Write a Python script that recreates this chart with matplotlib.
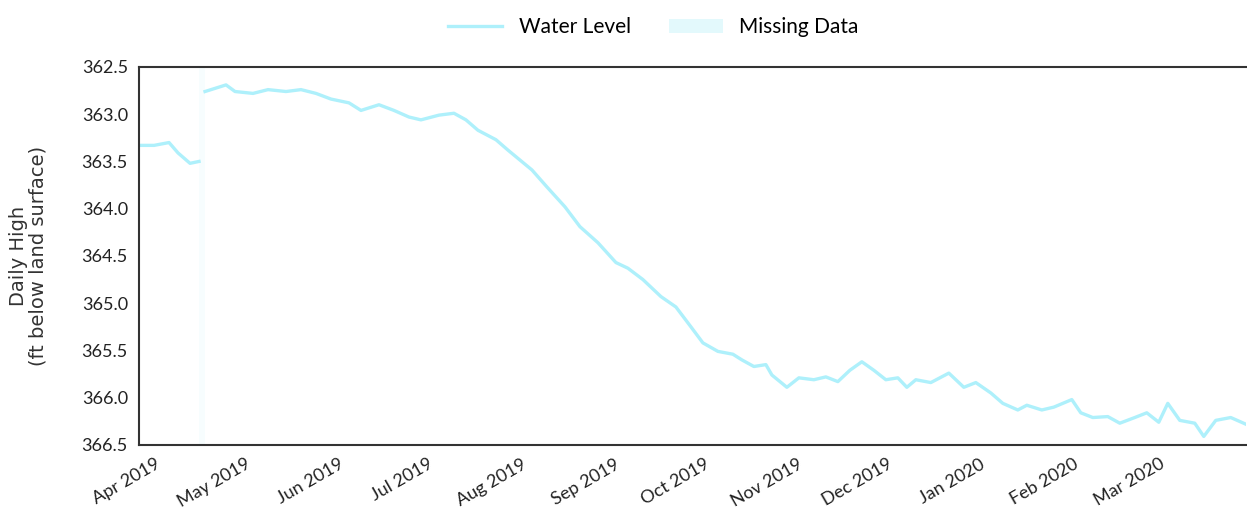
import matplotlib.pyplot as plt
import matplotlib.dates as mdates
from matplotlib.lines import Line2D
from matplotlib.patches import Patch
import numpy as np
import pandas as pd

# daily high water level readings (ft below land surface)
dates = ["2019-03-24", "2019-03-29", "2019-04-03", "2019-04-06", "2019-04-10", "2019-04-13",
         "2019-04-14",
         "2019-04-15", "2019-04-22", "2019-04-25", "2019-05-01", "2019-05-06", "2019-05-12",
         "2019-05-17", "2019-05-22", "2019-05-27", "2019-06-02", "2019-06-06", "2019-06-12",
         "2019-06-17", "2019-06-22", "2019-06-26", "2019-07-02", "2019-07-07", "2019-07-11",
         "2019-07-15", "2019-07-21", "2019-07-25", "2019-08-02", "2019-08-07", "2019-08-13",
         "2019-08-18", "2019-08-24", "2019-08-30", "2019-09-03", "2019-09-08", "2019-09-14",
         "2019-09-19", "2019-09-24", "2019-09-28", "2019-10-03", "2019-10-08", "2019-10-11",
         "2019-10-15", "2019-10-19", "2019-10-21", "2019-10-26", "2019-10-30", "2019-11-04",
         "2019-11-08", "2019-11-12", "2019-11-16", "2019-11-20", "2019-11-24", "2019-11-28",
         "2019-12-02", "2019-12-05", "2019-12-08", "2019-12-13", "2019-12-16", "2019-12-19",
         "2019-12-24", "2019-12-28", "2020-01-02", "2020-01-06", "2020-01-11", "2020-01-14",
         "2020-01-19", "2020-01-23", "2020-01-29", "2020-02-01", "2020-02-05", "2020-02-10",
         "2020-02-14", "2020-02-19", "2020-02-23", "2020-02-27", "2020-03-01", "2020-03-05",
         "2020-03-10", "2020-03-13", "2020-03-17", "2020-03-22", "2020-03-27"]
levels = [363.33, 363.33, 363.30, 363.41, 363.52, 363.50,
          np.nan,
          362.76, 362.69, 362.76, 362.78, 362.74, 362.76,
          362.74, 362.78, 362.84, 362.88, 362.96, 362.90,
          362.96, 363.03, 363.06, 363.01, 362.99, 363.06,
          363.17, 363.27, 363.38, 363.59, 363.77, 363.98,
          364.19, 364.36, 364.57, 364.63, 364.75, 364.93,
          365.04, 365.25, 365.42, 365.51, 365.54, 365.60,
          365.67, 365.65, 365.76, 365.89, 365.79, 365.81,
          365.78, 365.83, 365.71, 365.62, 365.71, 365.81,
          365.79, 365.89, 365.81, 365.84, 365.79, 365.74,
          365.89, 365.84, 365.95, 366.06, 366.13, 366.08,
          366.13, 366.10, 366.02, 366.16, 366.21, 366.20,
          366.27, 366.21, 366.16, 366.26, 366.06, 366.24,
          366.27, 366.41, 366.24, 366.21, 366.28]
missing_start = "2019-04-13"
missing_end = "2019-04-15"

line_color = "#aef0fb"
gap_color = "#e3f9fc"

x = pd.to_datetime(dates)

fig = plt.figure(figsize=(12.47, 5.21), dpi=100)
ax = fig.add_axes([0.1115, 0.146, 0.8875, 0.7255])

# missing-data period, barely visible like in the original
ax.axvspan(pd.Timestamp(missing_start), pd.Timestamp(missing_end), color=gap_color, alpha=0.25, lw=0)
ax.plot(x, levels, color=line_color, lw=2.4)

ax.set_xlim(x[0], x[-1])
ax.set_ylim(366.5, 362.5)
ax.set_yticks(np.arange(362.5, 366.51, 0.5))
ax.yaxis.set_major_formatter(plt.FormatStrFormatter("%.1f"))

ax.xaxis.set_major_locator(mdates.MonthLocator())
ax.xaxis.set_major_formatter(mdates.DateFormatter("%b %Y"))
for lab in ax.get_xticklabels():
    lab.set_rotation(30)
    lab.set_ha("right")
    lab.set_family("Lato")
    lab.set_fontsize(13)
for lab in ax.get_yticklabels():
    lab.set_family("Lato")
    lab.set_fontsize(13)

ax.tick_params(length=0, pad=8, colors="#222222")
ax.spines["right"].set_visible(False)
for s in ["left", "top", "bottom"]:
    ax.spines[s].set_color("#333333")
    ax.spines[s].set_linewidth(1.5)

ax.set_ylabel("Daily High\n(ft below land surface)", fontsize=14, color="#333333",
              linespacing=1.0)
ax.yaxis.set_label_coords(-0.083, 0.5)

handles = [Line2D([0], [0], color=line_color, lw=2.4),
           Patch(facecolor=gap_color, edgecolor="none")]
fig.legend(handles, ["Water Level", "Missing Data"], loc="center",
           bbox_to_anchor=(0.524, 0.948), ncol=2, frameon=False,
           handlelength=2.6, handletextpad=0.8, columnspacing=1.8,
           prop={"family": "Lato", "size": 15})

fig.savefig("out.png", dpi=100)
